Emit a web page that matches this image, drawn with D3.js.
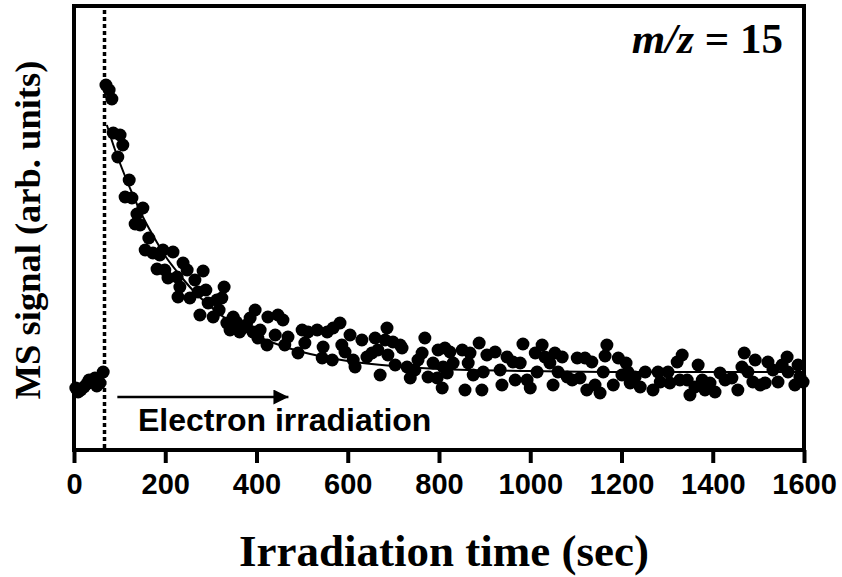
<!DOCTYPE html>
<html>
<head>
<meta charset="utf-8">
<script src="https://cdnjs.cloudflare.com/ajax/libs/d3/7.8.5/d3.min.js"></script>
<style>
  body { margin: 0; background: #fff; }
  svg { display: block; }
</style>
</head>
<body>
<div class="vis-ms"></div>
<script>
// measured points: time (sec) and MS signal (arb. units)
var timeSec = [4,9,15,22,28,33,39,46,50,57,64,
  70,77,83,86,96,101,107,112,121,127,134,138,145,151,156,164,173,182,188,195,199,206,217,226,228,232,239,248,254,
  265,272,276,283,289,294,305,313,318,324,329,335,342,349,356,363,370,378,386,392,397,401,403,408,423,425,441,447,458,462,469,
  491,500,506,513,533,544,546,555,566,568,583,587,594,605,612,616,631,642,653,660,666,671,682,686,688,699,704,715,719,730,737,747,
  754,763,769,776,787,796,798,807,809,813,818,824,831,851,857,864,868,875,888,894,897,905,923,934,938,949,962,967,978,984,993,
  1000,1011,1015,1026,1032,1043,1050,1054,1061,1070,1081,1092,1103,1109,1120,1124,1135,1142,1153,1160,1164,1168,1182,1193,1201,
  1210,1214,1219,1230,1241,1252,1269,1280,1285,1302,1306,1322,1328,1333,1344,1350,1361,1368,1377,1383,1394,1405,1416,1427,1442,
  1455,1464,1469,1477,1488,1493,1504,1515,1521,1532,1543,1552,1563,1565,1580,1587,1591,1598];
var signal = [62,58,60,63,66,70,68,72,64,67,78,
  365,360,351,317,293,315,305,253,270,252,226,236,225,242,200,212,197,181,195,200,180,172,198,173,153,163,187,180,152,
  170,158,135,179,160,147,133,150,140,152,163,127,120,133,128,118,122,125,132,118,140,117,112,120,105,133,115,135,130,105,113,
  97,120,107,118,120,92,103,118,90,122,127,105,98,115,90,83,110,93,97,112,100,75,110,122,95,108,85,105,102,83,72,80,
  90,97,112,73,87,72,100,62,83,102,77,98,87,100,60,87,97,75,107,60,78,95,98,80,65,93,88,70,87,106,70,
  62,97,78,105,93,87,65,97,78,93,73,70,92,72,92,60,88,65,57,78,94,105,65,92,75,
  87,78,67,73,63,78,60,78,68,78,67,88,70,95,70,55,63,85,70,60,67,58,77,70,72,
  60,83,97,78,68,90,65,67,88,80,68,85,93,78,65,85,73,68];

// decay fit line
var fitTime   = [72,90,110,130,150,175,200,230,260,300,350,400,450,500,600,700,800,1000,1200,1600];
var fitSignal = [325,300,276,254,234,213,194,176,160,143,126,114,105,98,89,84,81,79,78,78];

var xTicks = [0,200,400,600,800,1000,1200,1400,1600];
var irradiationStart = 66;

var width = 842, height = 577;
var margin = {top: 6, right: 38, bottom: 127, left: 74};

var svg = d3.select(".vis-ms")
  .append("svg")
    .attr("width", width)
    .attr("height", height);

var x = d3.scaleLinear()
  .domain([0, 1600])
  .range([margin.left, width - margin.right]);

var y = d3.scaleLinear()
  .domain([0, 444])
  .range([height - margin.bottom, margin.top]);

var x0 = x(0), x1 = x(1600), y0 = y(0), y1 = y(444);

// fit curve
var line = d3.line()
  .x(function(d, i) { return x(fitTime[i]); })
  .y(function(d) { return y(d); })
  .curve(d3.curveMonotoneX);

svg.append("path")
  .attr("d", line(fitSignal))
  .attr("fill", "none")
  .attr("stroke", "#000")
  .attr("stroke-width", 2);

// dots
svg.append("g")
  .selectAll("circle")
  .data(signal)
  .enter()
  .append("circle")
    .attr("cx", function(d, i) { return x(timeSec[i]); })
    .attr("cy", function(d) { return y(d); })
    .attr("r", 6.5)
    .attr("fill", "#000");

// dotted line where irradiation starts
var xs = Math.round(x(irradiationStart)) + 0.5;
svg.append("line")
  .attr("x1", xs).attr("x2", xs)
  .attr("y1", y1 + 4).attr("y2", y0)
  .attr("stroke", "#000")
  .attr("stroke-width", 3.5)
  .attr("stroke-dasharray", "4,3");

// frame
svg.append("rect")
  .attr("x", x0).attr("y", y1)
  .attr("width", x1 - x0).attr("height", y0 - y1)
  .attr("fill", "none")
  .attr("stroke", "#000")
  .attr("stroke-width", 4);

// x axis
var xAxis = svg.append("g")
  .attr("transform", "translate(0," + y0 + ")")
  .call(d3.axisBottom(x).tickValues(xTicks).tickSize(13).tickPadding(10).tickFormat(d3.format("d")));
xAxis.select(".domain").remove();
xAxis.selectAll(".tick line").attr("stroke-width", 4);
xAxis.selectAll(".tick text")
  .attr("font-family", "Liberation Sans, Arial, sans-serif")
  .attr("font-weight", "bold")
  .attr("font-size", 29)
  .attr("fill", "#000");

// titles
svg.append("text")
  .attr("x", (x0 + x1) / 2 + 5)
  .attr("y", 566)
  .attr("text-anchor", "middle")
  .attr("font-family", "Liberation Serif, Times New Roman, serif")
  .attr("font-weight", "bold")
  .attr("font-size", 45)
  .text("Irradiation time (sec)");

svg.append("text")
  .attr("transform", "translate(40,230) rotate(-90)")
  .attr("text-anchor", "middle")
  .attr("font-family", "Liberation Serif, Times New Roman, serif")
  .attr("font-weight", "bold")
  .attr("font-size", 36.5)
  .text("MS signal (arb. units)");

var mz = svg.append("text")
  .attr("x", 783)
  .attr("y", 53)
  .attr("text-anchor", "end")
  .attr("font-family", "Liberation Serif, Times New Roman, serif")
  .attr("font-weight", "bold")
  .attr("font-size", 43);
mz.append("tspan").attr("font-style", "italic").text("m/z");
mz.append("tspan").text(" = 15");

// arrow + label
svg.append("defs").append("marker")
  .attr("id", "head")
  .attr("viewBox", "0 0 10 10")
  .attr("refX", 10).attr("refY", 5)
  .attr("markerWidth", 6).attr("markerHeight", 6)
  .attr("markerUnits", "strokeWidth")
  .attr("orient", "auto")
  .append("path")
    .attr("d", "M0,0 L10,5 L0,10 Z")
    .attr("fill", "#000");

svg.append("line")
  .attr("x1", x(95)).attr("x2", x(470))
  .attr("y1", 397).attr("y2", 397)
  .attr("stroke", "#000")
  .attr("stroke-width", 2.5)
  .attr("marker-end", "url(#head)");

svg.append("text")
  .attr("x", 138)
  .attr("y", 431)
  .attr("font-family", "Liberation Sans, Arial, sans-serif")
  .attr("font-weight", "bold")
  .attr("font-size", 32)
  .text("Electron irradiation");
</script>
</body>
</html>
